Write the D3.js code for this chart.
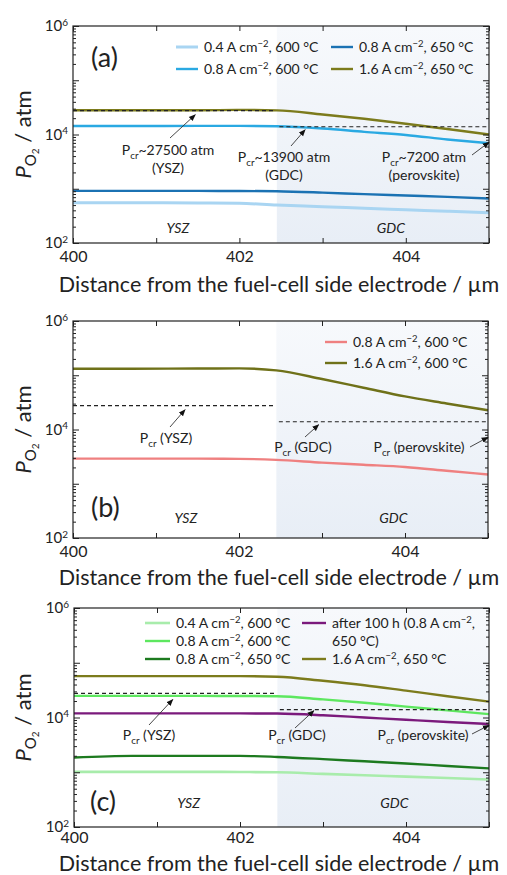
<!DOCTYPE html>
<html><head><meta charset="utf-8">
<script src="https://cdn.jsdelivr.net/npm/d3@7"></script>
<style>
body{margin:0;background:#fff}
text{font-family:Lato,"Open Sans",sans-serif;fill:#222}
</style>
</head><body>
<svg id="chart" width="507" height="875"></svg>
<script>
// ---------------- DATA ----------------
const xValues = [400, 400.7, 401.5, 402, 402.45, 403, 403.5, 404, 404.5, 405]; // µm
const gdcStart = 402.45;          // YSZ | GDC boundary (µm)
const pcrYSZ = 27500, pcrGDC = 13900, pcrPerov = 7200; // atm
const xTickValues = [400, 401, 402, 403, 404, 405];
const xTickLabels = [400, 402, 404];
const yTickExponents = [2, 4, 6];

// panel (a)
const aLabels = ["0.4 A cm^{−2}, 600 °C", "0.8 A cm^{−2}, 600 °C", "0.8 A cm^{−2}, 650 °C", "1.6 A cm^{−2}, 650 °C"];
const a_04_600 = [550, 550, 548, 540, 500, 468, 437, 410, 385, 360];
const a_08_600 = [14300, 14300, 14400, 14400, 14200, 12900, 11200, 9800, 8100, 6900];
const a_08_650 = [912, 912, 912, 910, 900, 850, 795, 750, 708, 660];
const a_16_650 = [28000, 28000, 28000, 28400, 27900, 23400, 19500, 15800, 12600, 10000];
const aNotes = ["P_{cr}~27500 atm|(YSZ)", "P_{cr}~13900 atm|(GDC)", "P_{cr}~7200 atm|(perovskite)"];

// panel (b)
const bLabels = ["0.8 A cm^{−2}, 600 °C", "1.6 A cm^{−2}, 600 °C"];
const b_08_600 = [2900, 2900, 2900, 2880, 2750, 2455, 2240, 2040, 1740, 1480];
const b_16_600 = [132000, 132000, 133000, 134000, 123000, 85100, 58900, 40700, 30200, 22600];
const bNotes = ["P_{cr} (YSZ)", "P_{cr} (GDC)", "P_{cr} (perovskite)"];

// panel (c)
const cLabels = ["0.4 A cm^{−2}, 600 °C", "0.8 A cm^{−2}, 600 °C", "0.8 A cm^{−2}, 650 °C", "after 100 h (0.8 A cm^{−2},|650 °C)", "1.6 A cm^{−2}, 650 °C"];
const c_04_600 = [1017, 1017, 1017, 1010, 1000, 933, 881, 832, 785, 738];
const c_08_600 = [24800, 24800, 24800, 24700, 24500, 21400, 18600, 15800, 13500, 11500];
const c_08_650 = [1860, 1990, 1990, 1990, 1905, 1740, 1585, 1445, 1300, 1175];
const c_after100 = [11900, 11900, 11900, 11900, 11800, 11000, 10000, 9100, 8300, 7600];
const c_16_650 = [56900, 56900, 56900, 56900, 55600, 46800, 38900, 30900, 24500, 19500];
const cNotes = ["P_{cr} (YSZ)", "P_{cr} (GDC)", "P_{cr} (perovskite)"];

const xTitle = "Distance from the fuel-cell side electrode / µm";

// ---------------- HELPERS ----------------
const svg = d3.select("#chart");
const defs = svg.append("defs");
const grad = defs.append("linearGradient").attr("id", "gdcGrad").attr("x1", 0).attr("y1", 0).attr("x2", 0).attr("y2", 1);
grad.append("stop").attr("offset", "0%").attr("stop-color", "#f7f9fc");
grad.append("stop").attr("offset", "100%").attr("stop-color", "#e8eef6");
defs.append("marker").attr("id", "arr").attr("viewBox", "0 0 10 10").attr("refX", 9).attr("refY", 5)
  .attr("markerWidth", 7).attr("markerHeight", 7).attr("orient", "auto").attr("markerUnits", "userSpaceOnUse")
  .append("path").attr("d", "M0,1 L10,5 L0,9 Z").attr("fill", "#111");

// renders "a^{b}" superscripts and "_{c}" subscripts in a text element
function rich(textSel, str, size) {
  const parts = str.split(/(\^\{[^}]*\}|_\{[^}]*\})/).filter(s => s.length);
  let shift = 0;
  parts.forEach(p => {
    let target = 0, content = p, fs = size;
    if (p.startsWith("^{")) { target = -0.38 * size; content = p.slice(2, -1); fs = size * 0.68; }
    else if (p.startsWith("_{")) { target = 0.25 * size; content = p.slice(2, -1); fs = size * 0.7; }
    textSel.append("tspan").attr("dy", target - shift).attr("font-size", fs).text(content);
    shift = target;
  });
}

function multiline(g, x, y, str, size, lh, anchor) {
  str.split("|").forEach((ln, i) => {
    const t = g.append("text").attr("x", x).attr("y", y + i * lh).attr("font-size", size).attr("text-anchor", anchor || "middle");
    rich(t, ln, size);
  });
}

function drawPanel(cfg) {
  const w = cfg.width, h = cfg.height;
  const g = svg.append("g").attr("transform", `translate(${cfg.left},${cfg.top})`);
  const x = d3.scaleLinear().domain([400, 405]).range([0, w]);
  const y = d3.scaleLog().domain([1e2, 1e6]).range([h, 0]);

  // GDC shading
  g.append("rect").attr("x", x(gdcStart)).attr("y", 0).attr("width", w - x(gdcStart)).attr("height", h).attr("fill", "url(#gdcGrad)");

  // series
  const line = d3.line().x((d, i) => x(xValues[i])).y(d => y(d)).curve(d3.curveMonotoneX);
  cfg.series.forEach(s => {
    g.append("path").attr("d", line(s.values)).attr("fill", "none").attr("stroke", s.color)
      .attr("stroke-width", s.width || 2.4);
  });

  // Pcr dashed lines
  const dash = (x0, x1, v) => g.append("line").attr("x1", x(x0)).attr("x2", x(x1)).attr("y1", y(v)).attr("y2", y(v))
    .attr("stroke", "#222").attr("stroke-width", 1.2).attr("stroke-dasharray", "4,3");
  dash(400, gdcStart - 0.03, pcrYSZ);
  dash(gdcStart + 0.03, 405, pcrGDC);

  // axes
  const ax = (gen) => { const a = g.append("g").call(gen); a.select(".domain").remove(); a.selectAll("line").attr("stroke", "#222"); return a; };
  const xFmt = d => xTickLabels.includes(d) ? d : "";
  const xb = ax(d3.axisBottom(x).tickValues(xTickValues).tickSizeInner(-5).tickSizeOuter(0).tickPadding(cfg.xPad).tickFormat(xFmt));
  xb.attr("transform", `translate(0,${h})`);
  xb.selectAll("text").attr("font-size", 16).attr("font-family", "Lato").attr("fill", "#222");
  ax(d3.axisTop(x).tickValues(xTickValues).tickSizeInner(-5).tickSizeOuter(0).tickFormat(""));

  const majors = [1e2, 1e3, 1e4, 1e5, 1e6];
  const minors = [];
  [2, 3, 4, 5].forEach(e => { for (let m = 2; m <= 9; m++) minors.push(m * Math.pow(10, e)); });
  const yl = ax(d3.axisLeft(y).tickValues(majors).tickSizeInner(-6).tickSizeOuter(0).tickPadding(5).tickFormat(""));
  yl.selectAll("text").each(function (d) {
    const e = Math.round(Math.log10(d));
    if (!yTickExponents.includes(e)) return;
    const t = d3.select(this).attr("font-size", 15).attr("font-family", "Lato").attr("fill", "#222");
    t.append("tspan").text("10");
    t.append("tspan").attr("dy", "-0.55em").attr("font-size", 10).text(e);
  });
  ax(d3.axisLeft(y).tickValues(minors).tickSizeInner(-3).tickSizeOuter(0).tickFormat(""));
  const yr = ax(d3.axisRight(y).tickValues(majors).tickSizeInner(-6).tickSizeOuter(0).tickFormat(""));
  yr.attr("transform", `translate(${w},0)`);
  ax(d3.axisRight(y).tickValues(minors).tickSizeInner(-3).tickSizeOuter(0).tickFormat("")).attr("transform", `translate(${w},0)`);

  // frame
  g.append("rect").attr("width", w).attr("height", h).attr("fill", "none").attr("stroke", "#222").attr("stroke-width", 1.2);

  // region labels
  g.append("text").attr("x", x(cfg.yszX)).attr("y", cfg.regionY).attr("text-anchor", "middle").attr("font-size", 14).attr("font-style", "italic").text("YSZ");
  g.append("text").attr("x", x(cfg.gdcX)).attr("y", cfg.regionY).attr("text-anchor", "middle").attr("font-size", 14).attr("font-style", "italic").text("GDC");

  // panel letter
  g.append("text").attr("x", cfg.letterPos[0]).attr("y", cfg.letterPos[1]).attr("font-size", 27).text(cfg.letter);

  // legend
  cfg.legend.forEach((L, i) => {
    const s = cfg.series[L.series];
    if (L.line !== false) g.append("line").attr("x1", L.x).attr("x2", L.x + L.len).attr("y1", L.y).attr("y2", L.y)
      .attr("stroke", s.color).attr("stroke-width", s.width || 2.4);
    multiline(g, L.x + L.len + 6, L.y + 5, L.text, 14, 18, "start");
  });

  // annotations (text + arrow pointing at Pcr value)
  cfg.notes.forEach(n => {
    multiline(g, n.tx, n.ty, n.text, 14, 18, "middle");
    g.append("line").attr("x1", n.from[0]).attr("y1", n.from[1])
      .attr("x2", x(n.atX)).attr("y2", y(n.value) + (n.off || 0))
      .attr("stroke", "#333").attr("stroke-width", 0.9).attr("marker-end", "url(#arr)");
  });

  // axis titles
  svg.append("text").attr("x", 279).attr("y", cfg.xTitleY).attr("text-anchor", "middle").attr("font-size", 21.5).text(xTitle);
  const yt = svg.append("text").attr("transform", `translate(31,${cfg.top + h / 2}) rotate(-90)`).attr("text-anchor", "middle").attr("font-size", 22);
  yt.append("tspan").attr("font-style", "italic").text("P");
  yt.append("tspan").attr("font-size", 15).attr("dy", 5).text("O");
  yt.append("tspan").attr("font-size", 10).attr("dy", 3).text("2");
  yt.append("tspan").attr("dy", -8).text(" / atm");
}

// ---------------- PANELS ----------------
drawPanel({
  left: 73, top: 26, width: 416, height: 217, letter: "(a)", letterPos: [18, 41], regionY: 207,
  yszX: 401.26, gdcX: 403.82, xTitleY: 292, xPad: 8,
  series: [
    { values: a_04_600, color: "#a9d5f2", width: 3 },
    { values: a_08_600, color: "#2aa9e2" },
    { values: a_08_650, color: "#1b72b3" },
    { values: a_16_650, color: "#7c7b1c" }
  ],
  legend: [
    { series: 0, x: 103, y: 21, len: 22, text: aLabels[0] },
    { series: 1, x: 103, y: 43, len: 22, text: aLabels[1] },
    { series: 2, x: 258, y: 21, len: 22, text: aLabels[2] },
    { series: 3, x: 258, y: 43, len: 22, text: aLabels[3] }
  ],
  notes: [
    { text: aNotes[0], tx: 95, ty: 129, from: [97, 112], atX: 401.47, value: pcrYSZ, off: 4 },
    { text: aNotes[1], tx: 211, ty: 136, from: [218, 120], atX: 402.79, value: pcrGDC, off: 3 },
    { text: aNotes[2], tx: 351, ty: 136, from: [399, 129], atX: 405, value: pcrPerov, off: 0 }
  ]
});

drawPanel({
  left: 73, top: 321, width: 415, height: 217, letter: "(b)", letterPos: [18, 196], regionY: 202,
  yszX: 401.36, gdcX: 403.86, xTitleY: 585, xPad: 8,
  series: [
    { values: b_08_600, color: "#ef8080" },
    { values: b_16_600, color: "#6f7119" }
  ],
  legend: [
    { series: 0, x: 252, y: 21, len: 22, text: bLabels[0] },
    { series: 1, x: 252, y: 42, len: 22, text: bLabels[1] }
  ],
  notes: [
    { text: bNotes[0], tx: 93, ty: 122, from: [97, 106], atX: 401.35, value: pcrYSZ, off: 4 },
    { text: bNotes[1], tx: 230, ty: 131, from: [232, 116], atX: 402.96, value: pcrGDC, off: 3 },
    { text: bNotes[2], tx: 346, ty: 131, from: [397, 126], atX: 405, value: pcrPerov, off: 0 }
  ]
});

drawPanel({
  left: 74, top: 608, width: 415, height: 219, letter: "(c)", letterPos: [16, 203], regionY: 200,
  yszX: 401.38, gdcX: 403.86, xTitleY: 871, xPad: 5,
  series: [
    { values: c_04_600, color: "#a8ecab", width: 2.6 },
    { values: c_08_600, color: "#5de75f" },
    { values: c_08_650, color: "#1d7a1f" },
    { values: c_after100, color: "#7b1a7c" },
    { values: c_16_650, color: "#7c7b1c" }
  ],
  legend: [
    { series: 0, x: 71, y: 15, len: 25, text: cLabels[0] },
    { series: 1, x: 71, y: 33, len: 25, text: cLabels[1] },
    { series: 2, x: 71, y: 51, len: 25, text: cLabels[2] },
    { series: 3, x: 228, y: 15, len: 24, text: cLabels[3] },
    { series: 4, x: 228, y: 51, len: 24, text: cLabels[4] }
  ],
  notes: [
    { text: cNotes[0], tx: 75, ty: 132, from: [75, 117], atX: 401.19, value: pcrYSZ, off: 6 },
    { text: cNotes[1], tx: 223, ty: 132, from: [221, 120], atX: 402.89, value: pcrGDC, off: 1 },
    { text: cNotes[2], tx: 349, ty: 132, from: [398, 126], atX: 405, value: pcrPerov, off: 0 }
  ]
});
</script>
</body></html>
